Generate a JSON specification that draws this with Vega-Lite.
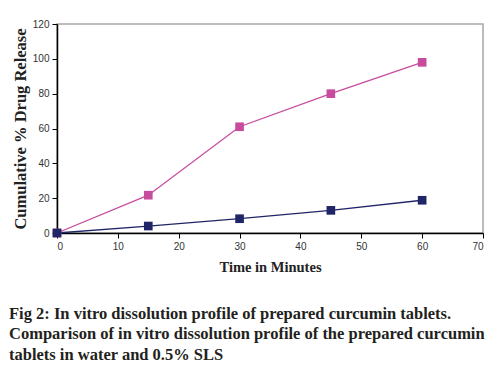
{
  "$schema": "https://vega.github.io/schema/vega-lite/v6.json",
  "width": 426,
  "height": 209,
  "autosize": "none",
  "padding": {"left": 57, "top": 24, "right": 17, "bottom": 133},
  "background": "white",
  "config": {
    "view": {"stroke": "#a6a6a6", "strokeWidth": 1.5}
  },
  "title": {
    "text": [
      "Fig 2: In vitro dissolution profile of prepared curcumin tablets.",
      "Comparison of in vitro dissolution profile of the prepared curcumin",
      "tablets in water and 0.5% SLS"
    ],
    "orient": "bottom",
    "anchor": "start",
    "frame": "group",
    "dx": -48,
    "offset": 32,
    "font": "Liberation Serif",
    "fontWeight": "bold",
    "fontSize": 16.5,
    "lineHeight": 20.5,
    "color": "#231f20"
  },
  "data": {
    "values": [
      {"time": 0, "release": 0, "medium": "0.5% SLS"},
      {"time": 15, "release": 21.7, "medium": "0.5% SLS"},
      {"time": 30, "release": 61, "medium": "0.5% SLS"},
      {"time": 45, "release": 80, "medium": "0.5% SLS"},
      {"time": 60, "release": 98, "medium": "0.5% SLS"},
      {"time": 0, "release": 0, "medium": "Water"},
      {"time": 15, "release": 4, "medium": "Water"},
      {"time": 30, "release": 8.2, "medium": "Water"},
      {"time": 45, "release": 13, "medium": "Water"},
      {"time": 60, "release": 18.8, "medium": "Water"}
    ]
  },
  "encoding": {
    "x": {
      "field": "time", "type": "quantitative",
      "scale": {"domain": [0, 70], "nice": false},
      "axis": {
        "title": "Time in Minutes",
        "values": [0, 10, 20, 30, 40, 50, 60, 70],
        "grid": false,
        "domainColor": "#000000", "domainWidth": 1.5,
        "tickColor": "#000000", "tickSize": 5, "tickWidth": 1,
        "labelFont": "Liberation Sans", "labelFontSize": 10, "labelColor": "#333333",
        "labelPadding": 3,
        "titleFont": "Liberation Serif", "titleFontWeight": "bold", "titleFontSize": 14.5,
        "titleColor": "#222222", "titlePadding": 9
      }
    },
    "y": {
      "field": "release", "type": "quantitative",
      "scale": {"domain": [0, 120], "nice": false},
      "axis": {
        "title": "Cumulative % Drug Release",
        "values": [0, 20, 40, 60, 80, 100, 120],
        "grid": false,
        "domainColor": "#000000", "domainWidth": 1.5,
        "tickColor": "#000000", "tickSize": 5, "tickWidth": 1,
        "labelFont": "Liberation Sans", "labelFontSize": 10, "labelColor": "#333333",
        "labelPadding": 3,
        "titleFont": "Liberation Serif", "titleFontWeight": "bold", "titleFontSize": 16.5,
        "titleColor": "#222222", "titlePadding": 4
      }
    },
    "color": {
      "field": "medium", "type": "nominal",
      "scale": {"domain": ["0.5% SLS", "Water"], "range": ["#c84c9e", "#1f2566"]},
      "legend": null
    }
  },
  "layer": [
    {"mark": {"type": "line", "strokeWidth": 1.3}},
    {"mark": {"type": "point", "shape": "square", "filled": true, "size": 75, "opacity": 1}}
  ]
}
